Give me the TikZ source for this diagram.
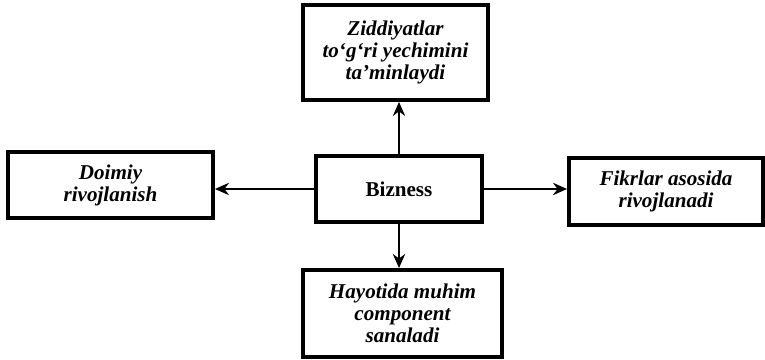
\documentclass[tikz,border=0pt]{standalone}
\usepackage{fontspec}
\setmainfont{Liberation Serif}[
  BoldItalicFont={Liberation Serif Bold Italic}]
\usetikzlibrary{arrows.meta, positioning}

\begin{document}
\begin{tikzpicture}[
  box/.style={draw=black, line width=2.2pt, fill=white,
              minimum width=#1, inner sep=2pt,
              align=center, font=\fontsize{12}{12.5}\selectfont\bfseries\itshape},
  core/.style={draw=black, line width=2.2pt, fill=white,
               minimum width=3.32cm, minimum height=1.32cm,
               align=center, font=\fontsize{12}{12}\selectfont\bfseries},
  arr/.style={-{Stealth[length=8pt, width=7pt]}, line width=1.1pt, draw=black}
]
\useasboundingbox (0,0) rectangle (15.3,7.2);

\node[core]                             (biz)  at (7.98,3.42) {Bizness};
\node[box=3.7cm,  minimum height=1.9cm]  (zid)  at (7.91,6.15) {Ziddiyatlar\\to‘g‘ri yechimini\\ta’minlaydi};
\node[box=4.1cm,  minimum height=1.32cm] (doim) at (2.21,3.50) {Doimiy\\rivojlanish};
\node[box=3.88cm, minimum height=1.34cm] (fikr) at (13.32,3.37) {Fikrlar asosida\\rivojlanadi};
\node[box=3.98cm, minimum height=1.74cm] (hay)  at (8.05,0.93) {Hayotida muhim\\component\\sanaladi};

\draw[arr] (biz.north) -- (biz.north |- zid.south);
\draw[arr] (biz.west)  -- (biz.west -| doim.east);
\draw[arr] (biz.east)  -- (biz.east -| fikr.west);
\draw[arr] (biz.south) -- (biz.south |- hay.north);
\end{tikzpicture}
\end{document}
